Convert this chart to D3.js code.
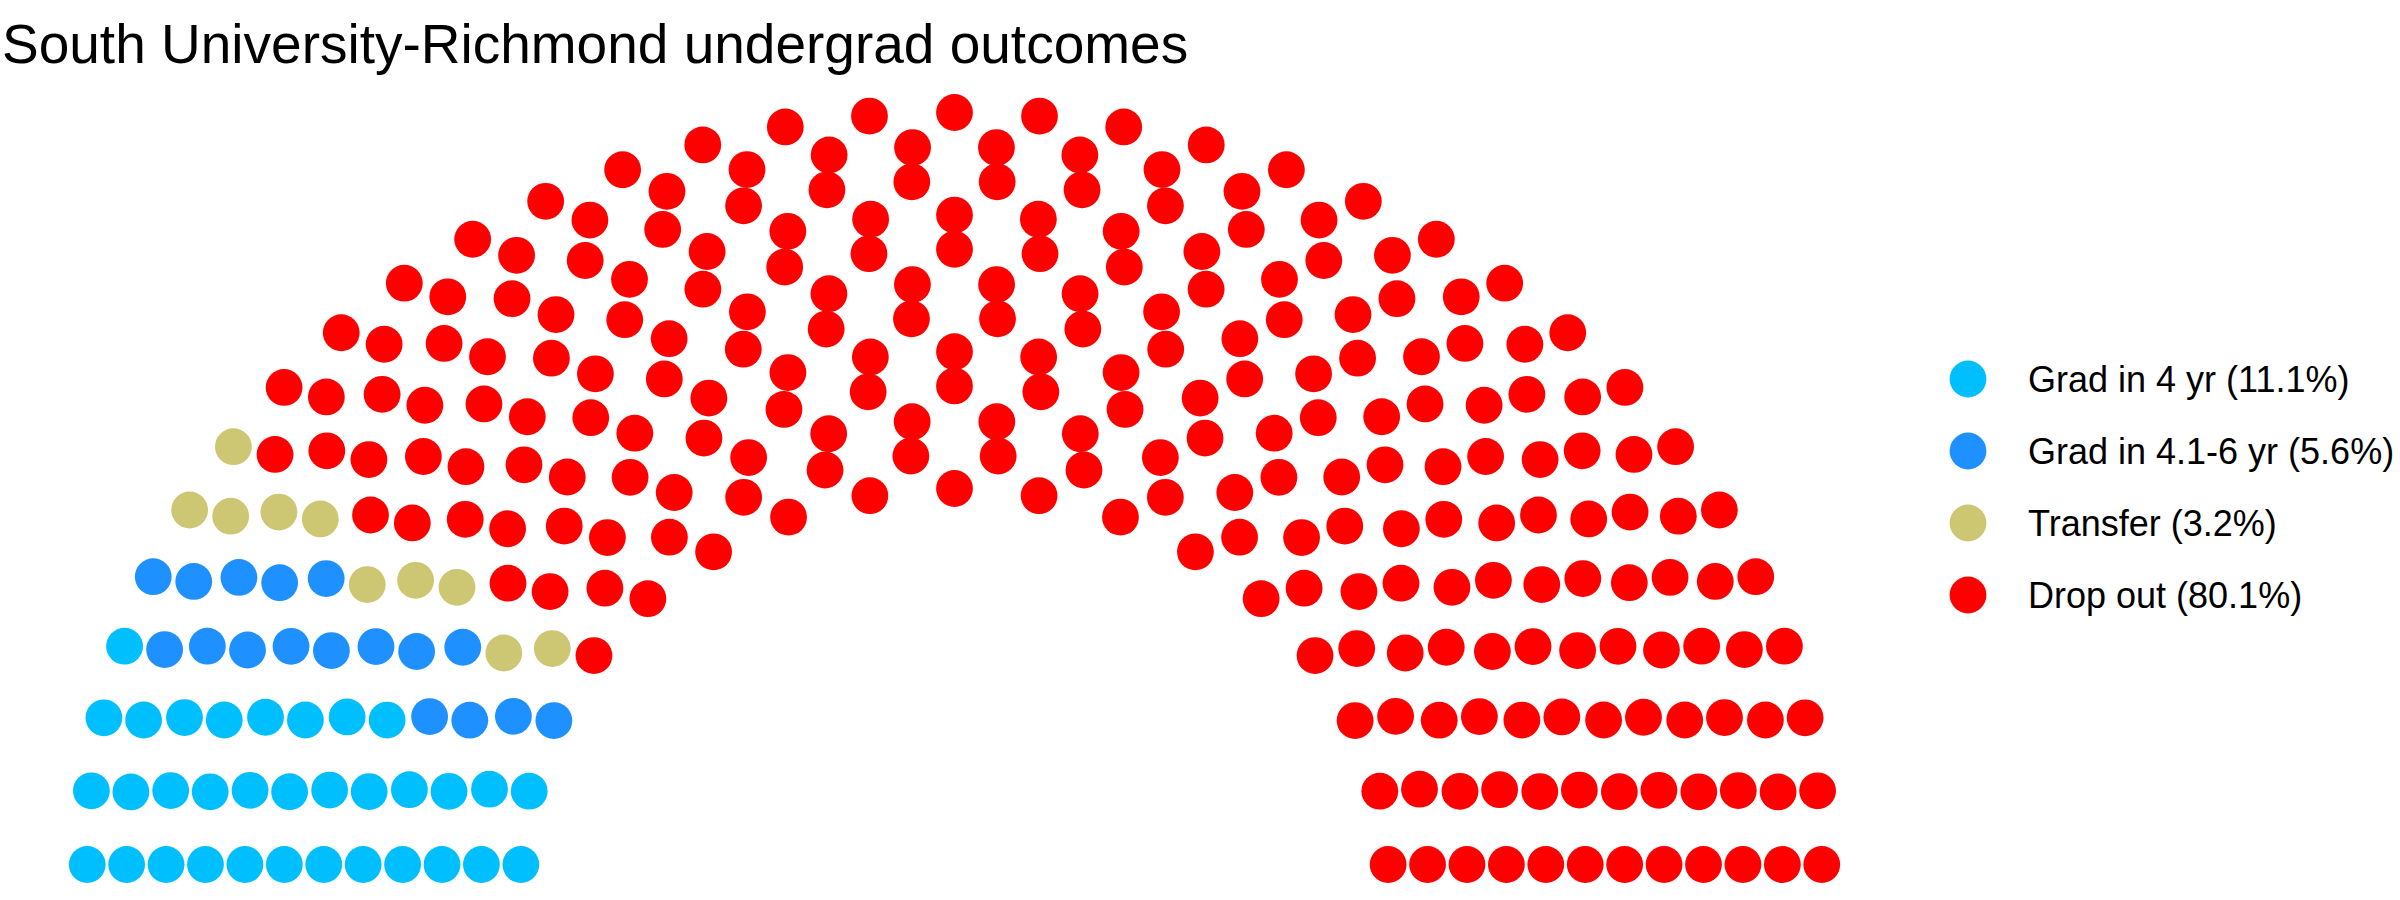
<!DOCTYPE html>
<html>
<head>
<meta charset="utf-8">
<script src="https://cdn.jsdelivr.net/npm/d3@7"></script>
<style>
  html, body { margin: 0; padding: 0; background: #fff; }
  svg { display: block; font-family: "Liberation Sans", Arial, Helvetica, sans-serif; }
</style>
</head>
<body>
<svg id="chart" width="2400" height="900"></svg>
<script>
// ---- data ----
const title = "South University-Richmond undergrad outcomes";
const parties = ["Grad in 4 yr", "Grad in 4.1-6 yr", "Transfer", "Drop out"];
const percents = [11.1, 5.6, 3.2, 80.1];
const seats = [33, 17, 10, 240];
const colors = ["#00BFFF", "#1E90FF", "#CDC673", "#FF0000"];
const parlRows = 12;

// ---- semicircle parliament layout (ggparliament style) ----
function rseq(from, to, n) {
  if (n === 1) return [from];
  const by = (to - from) / (n - 1);
  const out = [from];
  for (let k = 1; k <= n - 2; k++) out.push(from + k * by);
  out.push(to);
  return out;
}
function calcCoordinates(N, M, limits) {
  const radii = rseq(limits[0], limits[1], M);
  const pts = [];
  for (let i = 0; i < M; i++) {
    let s = 0;
    for (let j = i; j < M; j++) s += radii[j];
    const cnt = Math.round(N * radii[i] / s);
    const thetas = rseq(0, Math.PI, cnt);
    thetas.forEach(t => pts.push({ x: radii[i] * Math.cos(t), y: radii[i] * Math.sin(t), row: i + 1, theta: t }));
    N -= cnt;
  }
  pts.sort((a, b) => (b.theta - a.theta) || (b.row - a.row));
  return pts;
}
const total = d3.sum(seats);
const pts = calcCoordinates(total, parlRows, [1, 2]);
let idx = 0;
seats.forEach((s, p) => { for (let k = 0; k < s; k++) pts[idx++].party = p; });

// ---- drawing ----
const svg = d3.select("#chart");
const x = d3.scaleLinear().domain([-2.2, 2.2]).range([0.5, 1908.5]);
const y = d3.scaleLinear().domain([-0.1, 2.1]).range([902.1, 74.9]);
const color = d3.scaleOrdinal().domain(d3.range(parties.length)).range(colors);

svg.append("g").selectAll("circle").data(pts).join("circle")
  .attr("cx", d => x(d.x))
  .attr("cy", d => y(d.y))
  .attr("r", 18.4)
  .attr("fill", d => color(d.party));

svg.append("text")
  .attr("x", 2).attr("y", 63)
  .attr("font-size", 55)
  .attr("fill", "#000")
  .text(title);

const legend = svg.append("g").attr("transform", "translate(1968,379)");
const items = legend.selectAll("g").data(parties).join("g")
  .attr("transform", (d, i) => `translate(0,${i * 72})`);
items.append("circle").attr("r", 18.4).attr("fill", (d, i) => colors[i]);
items.append("text")
  .attr("x", 60).attr("y", 12.5)
  .attr("font-size", 36)
  .attr("fill", "#000")
  .text((d, i) => `${d} (${percents[i].toFixed(1)}%)`);
</script>
</body>
</html>
